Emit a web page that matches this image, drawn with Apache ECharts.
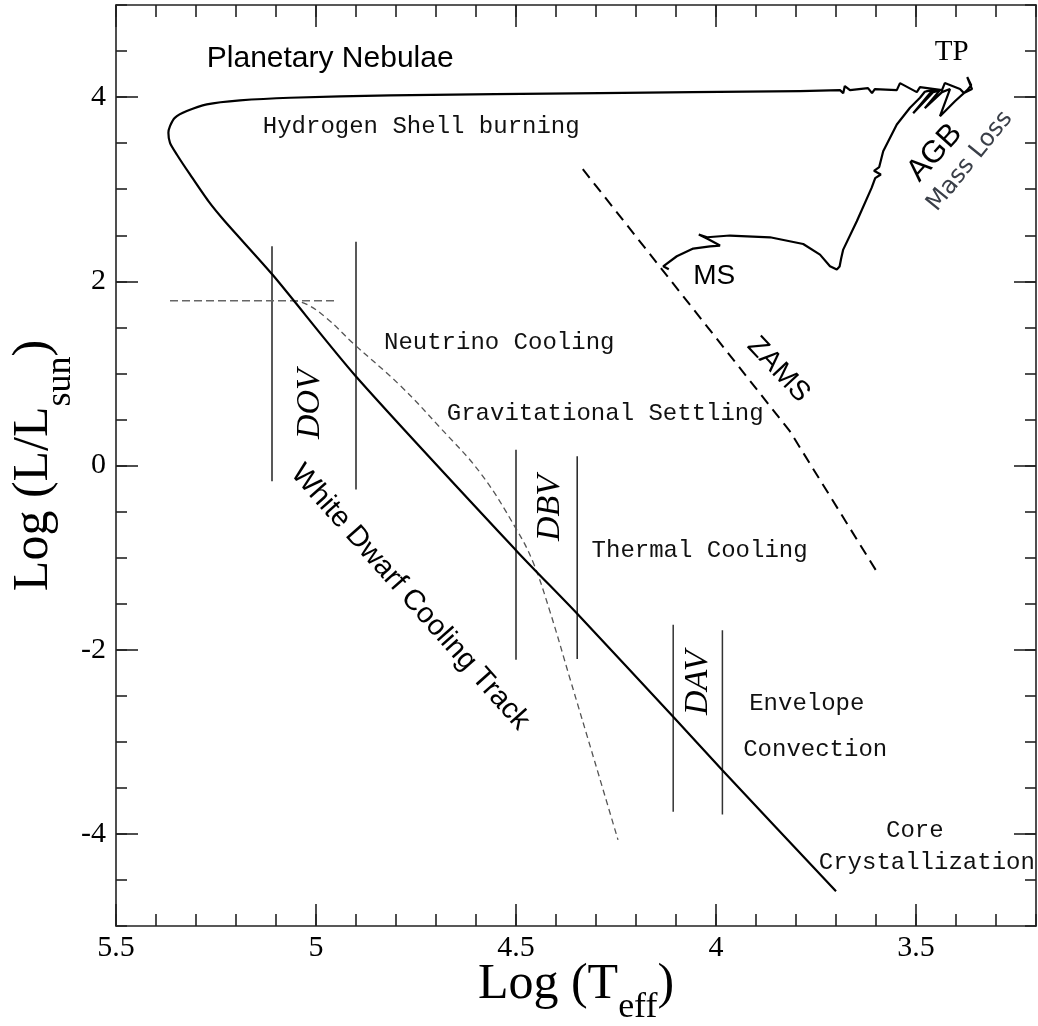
<!DOCTYPE html>
<html>
<head>
<meta charset="utf-8">
<title>White dwarf evolution</title>
<script src="https://cdn.jsdelivr.net/npm/echarts@6/dist/echarts.min.js"></script>
<style>
  html, body { margin: 0; padding: 0; background: #fff; }
  #main { width: 1038px; height: 1026px; }
</style>
</head>
<body>
<div id="main"></div>
<script>
// axis ranges and tick labels
const xRange = [3.2, 5.5];
const yRange = [-5, 5];
const xMajorTicks = [5.5, 5, 4.5, 4, 3.5];
const yMajorTicks = [4, 2, 0, -2, -4];

// evolutionary track, [log Teff, log L]
const msHook = [
  [4.118, 2.13], [4.132, 2.163], [4.098, 2.272], [4.057, 2.355], [4.015, 2.38], [3.99, 2.388],
  [4.019, 2.457], [4.043, 2.508], [4.022, 2.478], [3.965, 2.497], [3.865, 2.478],
  [3.782, 2.405], [3.74, 2.29], [3.715, 2.163], [3.698, 2.127], [3.691, 2.16], [3.687, 2.25]
];
const giantBranch = [
  [3.682, 2.344], [3.648, 2.652], [3.611, 3.014], [3.602, 3.12], [3.588, 3.16], [3.605, 3.2],
  [3.592, 3.24], [3.582, 3.413], [3.548, 3.703], [3.515, 3.884], [3.49, 3.993], [3.478, 4.058]
];
const agbPulses = [
  [3.472, 4.065], [3.452, 4.076], [3.507, 3.826], [3.465, 4.043], [3.44, 4.076], [3.478, 3.88],
  [3.435, 4.054], [3.415, 4.087], [3.44, 3.793], [3.402, 3.957], [3.372, 4.076], [3.362, 4.13],
  [3.372, 4.217], [3.36, 4.087], [3.38, 4.043]
];
const postAgb = [
  [3.39, 4.087], [3.428, 4.152], [3.435, 4.076], [3.49, 4.109], [3.498, 4.054], [3.54, 4.152],
  [3.548, 4.076], [3.603, 4.087], [3.61, 4.043], [3.62, 4.098], [3.665, 4.076], [3.678, 4.12],
  [3.682, 4.043], [3.69, 4.076], [3.79, 4.065]
];
const pnKnee = [
  [3.79, 4.065], [4.29, 4.043], [4.815, 4.018], [5.065, 3.993], [5.19, 3.964], [5.273, 3.921],
  [5.323, 3.848], [5.353, 3.775], [5.365, 3.685], [5.369, 3.612], [5.365, 3.503], [5.348, 3.377],
  [5.315, 3.16], [5.269, 2.87]
];
const wdCooling = [
  [5.228, 2.652], [5.109, 2.073], [4.9, 0.967], [4.498, -0.93], [4.348, -1.605],
  [4.107, -2.728], [3.984, -3.308], [3.7, -4.623]
];

const zams = [[4.333, 3.217], [3.815, 0.37], [3.595, -1.174]];
const crystalCurve = [
  [5.06, 1.793], [5.023, 1.75], [4.973, 1.598], [4.907, 1.326], [4.79, 0.87], [4.69, 0.413],
  [4.588, -0.087], [4.5, -0.685], [4.458, -1.043], [4.415, -1.587], [4.365, -2.315],
  [4.303, -3.217], [4.245, -4.065]
];
const neutrinoLimit = [[5.365, 1.79], [4.948, 1.79]];

// instability strip edges: [log Teff, top, bottom]
const dovEdges = [[5.11, 2.38, -0.17], [4.9, 2.43, -0.26]];
const dbvEdges = [[4.5, 0.17, -2.11], [4.347, 0.1, -2.1]];
const davEdges = [[4.107, -1.73, -3.76], [3.984, -1.79, -3.79]];

// annotations: [text, log Teff, log L]
const labelsMono = [
  ['Hydrogen Shell burning', 5.133, 3.674],
  ['Neutrino Cooling', 4.83, 1.337],
  ['Gravitational Settling', 4.673, 0.565],
  ['Thermal Cooling', 4.311, -0.924],
  ['Envelope', 3.917, -2.584],
  ['Convection', 3.932, -3.087],
  ['Core', 3.575, -3.967],
  ['Crystallization', 3.743, -4.315]
];
const labelsOther = [
  ['Planetary Nebulae', 5.273, 4.413],
  ['TP', 3.411, 4.482],
  ['MS', 4.057, 2.054],
  ['ZAMS', 3.844, 1.04],
  ['AGB', 3.453, 3.395],
  ['Mass Loss', 3.365, 3.304],
  ['White Dwarf Cooling Track', 4.765, -1.431],
  ['DOV', 5.015, 0.667],
  ['DBV', 4.416, -0.462],
  ['DAV', 4.044, -2.359]
];

const SANS = '"Liberation Sans", Arial, sans-serif';
const SERIF = '"Liberation Serif", "Times New Roman", serif';
const MONO = '"Liberation Mono", "Courier New", monospace';
const labelStyle = {
  'Planetary Nebulae': {font: '30px ' + SANS, align: 'left'},
  'TP': {font: '29px ' + SERIF},
  'MS': {font: '28px ' + SANS, align: 'left'},
  'ZAMS': {font: '28px ' + SANS, rot: -47},
  'AGB': {font: '31px ' + SANS, rot: 48},
  'Mass Loss': {font: '24px "DejaVu Sans", sans-serif', rot: 51, color: '#3a3f48'},
  'White Dwarf Cooling Track': {font: '29px ' + SANS, rot: -48.4},
  'DOV': {font: 'italic 34px ' + SERIF, rot: 90},
  'DBV': {font: 'italic 34px ' + SERIF, rot: 90},
  'DAV': {font: 'italic 34px ' + SERIF, rot: 90}
};

const axisColor = '#222';

function makeXAxis(position, major) {
  return {
    type: 'value', position: position, inverse: true,
    min: xRange[0], max: xRange[1],
    interval: major ? null : 0.1,
    axisLine: {show: major, onZero: false, lineStyle: {color: axisColor, width: 1.6}},
    axisTick: {
      show: true, inside: true, length: major ? 22 : 12,
      customValues: major ? xMajorTicks : undefined,
      lineStyle: {color: axisColor, width: 1.6}
    },
    axisLabel: (major && position === 'bottom') ? {
      show: true, customValues: xMajorTicks, margin: 7, showMinLabel: true, showMaxLabel: true,
      fontFamily: SERIF, fontSize: 30, color: '#000'
    } : {show: false},
    splitLine: {show: false}
  };
}

function makeYAxis(position, major) {
  return {
    type: 'value', position: position,
    min: yRange[0], max: yRange[1],
    interval: major ? null : 0.5,
    axisLine: {show: major, onZero: false, lineStyle: {color: axisColor, width: 1.6}},
    axisTick: {
      show: true, inside: true, length: major ? 22 : 11,
      customValues: major ? yMajorTicks : undefined,
      lineStyle: {color: axisColor, width: 1.6}
    },
    axisLabel: (major && position === 'left') ? {
      show: true, customValues: yMajorTicks, margin: 10,
      fontFamily: SERIF, fontSize: 30, color: '#000'
    } : {show: false},
    splitLine: {show: false}
  };
}

const xAxes = [makeXAxis('bottom', true), makeXAxis('bottom', false), makeXAxis('top', true), makeXAxis('top', false)];
const yAxes = [makeYAxis('left', true), makeYAxis('left', false), makeYAxis('right', true), makeYAxis('right', false)];

xAxes[0].name = '{a|Log (T}{s|eff}{a|)}';
xAxes[0].nameLocation = 'middle';
xAxes[0].nameGap = 18;
xAxes[0].nameMoveOverlap = false;
xAxes[0].nameTextStyle = {
  rich: {
    a: {fontFamily: SERIF, fontSize: 50, lineHeight: 82, color: '#000'},
    s: {fontFamily: SERIF, fontSize: 36, lineHeight: 36, verticalAlign: 'bottom', color: '#000'}
  }
};
yAxes[0].name = '{a|Log (L/L}{s|sun}{a|)}';
yAxes[0].nameLocation = 'middle';
yAxes[0].nameRotate = 90;
yAxes[0].nameGap = 37;
yAxes[0].nameMoveOverlap = false;
yAxes[0].nameTextStyle = {
  rich: {
    a: {fontFamily: SERIF, fontSize: 50, lineHeight: 90, color: '#000'},
    s: {fontFamily: SERIF, fontSize: 36, lineHeight: 36, verticalAlign: 'bottom', color: '#000'}
  }
};

function line(data, color, width, type, z, smooth) {
  return {
    type: 'line', data: data, symbol: 'none', showSymbol: false, silent: true,
    smooth: smooth || false,
    lineStyle: {color: color, width: width, type: type}, z: z || 2
  };
}

function edgeSeries(edges, color) {
  return edges.map(e => line([[e[0], e[1]], [e[0], e[2]]], color, 1.5, 'solid', 3));
}

const giantTrack = [].concat(msHook, giantBranch, agbPulses, postAgb);
const remnantTrack = [].concat(pnKnee, wdCooling);

const series = [
  line(giantTrack, '#000', 2.2, 'solid', 5),
  line(remnantTrack, '#000', 2.2, 'solid', 5, 0.25),
  line(zams, '#000', 2, [11, 7], 4),
  line(crystalCurve, '#555', 1.3, [6, 4], 4, 0.4),
  line(neutrinoLimit, '#666', 1.5, [8, 4], 4)
].concat(edgeSeries(dovEdges, '#222'), edgeSeries(dbvEdges, '#222'), edgeSeries(davEdges, '#333'));

const chart = echarts.init(document.getElementById('main'));
chart.setOption({
  animation: false,
  backgroundColor: '#fff',
  grid: {left: 116, right: 2, top: 5, bottom: 100, outerBoundsMode: 'none', containLabel: false},
  xAxis: xAxes,
  yAxis: yAxes,
  series: series
});

const toPx = p => chart.convertToPixel({xAxisIndex: 0, yAxisIndex: 0}, p);
const graphics = [];
labelsMono.forEach(([text, x, y]) => {
  const p = toPx([x, y]);
  graphics.push({
    type: 'text', x: p[0], y: p[1], silent: true, z: 10,
    style: {text: text, font: '24px ' + MONO, fill: '#111', align: 'left', verticalAlign: 'middle'}
  });
});
labelsOther.forEach(([text, x, y]) => {
  const s = labelStyle[text];
  const p = toPx([x, y]);
  graphics.push({
    type: 'text', x: p[0], y: p[1], silent: true, z: 10,
    rotation: (s.rot || 0) * Math.PI / 180,
    style: {text: text, font: s.font, fill: s.color || '#000', align: s.align || 'center', verticalAlign: 'middle'}
  });
});
chart.setOption({graphic: graphics});
</script>
</body>
</html>
